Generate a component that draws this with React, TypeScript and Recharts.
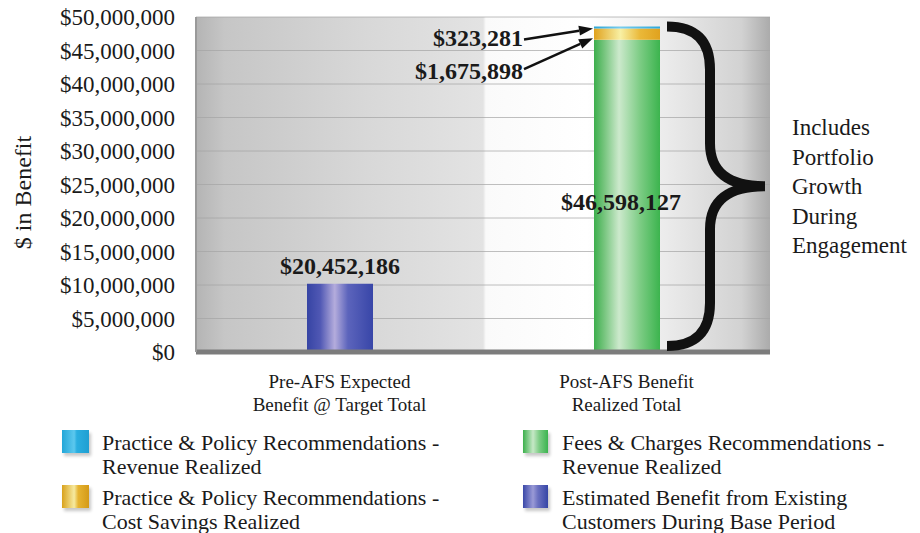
import { Bar, BarChart, CartesianGrid, ReferenceLine, XAxis, YAxis } from "recharts";

const categories = ["Pre-AFS Expected\nBenefit @ Target Total", "Post-AFS Benefit\nRealized Total"];
const baseBenefit = [10200000, 0];
const feesRevenue = [0, 46598127];
const policyCost = [0, 1675898];
const policyRevenue = [0, 323281];
const preTargetLabel = "$20,452,186";
const yTicks = [0, 5000000, 10000000, 15000000, 20000000, 25000000, 30000000, 35000000, 40000000, 45000000, 50000000];
const braceNote = ["Includes", "Portfolio", "Growth", "During", "Engagement"];

const PRE = 0;
const POST = 1;

const data = categories.map((category, i) => ({
  category,
  base: baseBenefit[i],
  fees: feesRevenue[i],
  cost: policyCost[i],
  revenue: policyRevenue[i],
}));

const SERIF = '"Liberation Serif", "Times New Roman", serif';
const money = (v: number) => "$" + v.toLocaleString("en-US");

const legendItems = [
  { lines: ["Practice & Policy Recommendations -", "Revenue Realized"], swatch: "linear-gradient(90deg,#22a6d8,#5cc8ee 45%,#2aaee0 55%,#1f9fd2)" },
  { lines: ["Practice & Policy Recommendations -", "Cost Savings Realized"], swatch: "linear-gradient(90deg,#d9a21c,#f6eaa0 45%,#e6b432 60%,#d49a18)" },
  { lines: ["Fees & Charges Recommendations -", "Revenue Realized"], swatch: "linear-gradient(90deg,#3cb04c,#c6e8c6 40%,#7ccc84 65%,#3cb450)" },
  { lines: ["Estimated Benefit from Existing", "Customers During Base Period"], swatch: "linear-gradient(90deg,#3a48a8,#9a9ad6 40%,#6a70c0 60%,#3646a6)" },
];

function Arrow({ x1, y1, x2, y2 }: { x1: number; y1: number; x2: number; y2: number }) {
  const a = Math.atan2(y2 - y1, x2 - x1);
  const L = 14;
  const W = 5;
  const bx = x2 - L * Math.cos(a);
  const by = y2 - L * Math.sin(a);
  const pts = [
    `${x2},${y2}`,
    `${bx + W * Math.sin(a)},${by - W * Math.cos(a)}`,
    `${bx - W * Math.sin(a)},${by + W * Math.cos(a)}`,
  ].join(" ");
  return (
    <g>
      <line x1={x1} y1={y1} x2={bx} y2={by} stroke="#111" strokeWidth={2.5} />
      <polygon points={pts} fill="#111" />
    </g>
  );
}

const boldText = { fontFamily: SERIF, fontWeight: 700, fontSize: 24, fill: "#1a1a1a" };

function BaseLabel(props: any) {
  const { x, y, width, height } = props;
  if (!(height > 0.5)) return null;
  return (
    <text x={x + width / 2} y={y - 10} textAnchor="middle" style={boldText}>
      {preTargetLabel}
    </text>
  );
}

function FeesLabel(props: any) {
  const { x, y, width, height } = props;
  if (!(height > 0.5)) return null;
  const bottom = y + height;
  const ppu = height / feesRevenue[POST];
  const total = feesRevenue[POST] + policyCost[POST] + policyRevenue[POST];
  const top = bottom - total * ppu;
  const right = x + width;
  const x0 = right + 7;
  const xv = right + 50;
  const xt = right + 105;
  const yT = top;
  const yB = bottom - 6;
  const yM = (yT + yB) / 2;
  const r = 43;
  const path = [
    `M ${x0} ${yT}`,
    `Q ${xv} ${yT} ${xv} ${yT + r}`,
    `L ${xv} ${yM - r}`,
    `Q ${xv} ${yM} ${xt} ${yM}`,
    `Q ${xv} ${yM} ${xv} ${yM + r}`,
    `L ${xv} ${yB - r}`,
    `Q ${xv} ${yB} ${x0} ${yB}`,
  ].join(" ");
  return (
    <g>
      <text x={x + width / 2 - 6} y={y + height / 2 + 14} textAnchor="middle" style={boldText}>
        {money(feesRevenue[POST])}
      </text>
      <path d={path} fill="none" stroke="#111" strokeWidth={10} />
      {braceNote.map((line, i) => (
        <text
          key={line}
          x={xt + 27}
          y={yM - 59 + i * 29.5 + 8}
          style={{ fontFamily: SERIF, fontSize: 23, fill: "#1a1a1a" }}
        >
          {line}
        </text>
      ))}
    </g>
  );
}

function CostLabel(props: any) {
  const { x, y, height } = props;
  if (!(height > 0.5)) return null;
  const tipY = y + height / 2 + 4;
  const ty = tipY + 33;
  return (
    <g>
      <text x={x - 71} y={ty + 8} textAnchor="end" style={boldText}>
        {money(policyCost[POST])}
      </text>
      <Arrow x1={x - 70} y1={ty - 2} x2={x - 1} y2={tipY} />
    </g>
  );
}

function RevenueLabel(props: any) {
  const { x, y, height } = props;
  if (!(height > 0.5)) return null;
  const tipY = y + height / 2 + 1;
  const ty = tipY + 10;
  return (
    <g>
      <text x={x - 71} y={ty + 8} textAnchor="end" style={boldText}>
        {money(policyRevenue[POST])}
      </text>
      <Arrow x1={x - 70} y1={ty + 1} x2={x - 1} y2={tipY} />
    </g>
  );
}

function XTick(props: any) {
  const { x, y, payload } = props;
  const lines = String(payload.value).split("\n");
  return (
    <g>
      {lines.map((line, i) => (
        <text
          key={i}
          x={x}
          y={y + 36 + i * 23}
          textAnchor="middle"
          style={{ fontFamily: SERIF, fontSize: 19, fill: "#1a1a1a" }}
        >
          {line}
        </text>
      ))}
    </g>
  );
}

function YLabel(props: any) {
  const { viewBox } = props;
  const cx = viewBox.x + 31;
  const cy = viewBox.y + viewBox.height / 2 + 8;
  return (
    <text
      x={cx}
      y={cy}
      transform={`rotate(-90 ${cx} ${cy})`}
      textAnchor="middle"
      style={{ fontFamily: SERIF, fontSize: 24, fill: "#1a1a1a" }}
    >
      $ in Benefit
    </text>
  );
}

export default function App() {
  return (
    <div style={{ position: "absolute", left: 0, top: 0, width: 920, height: 533, background: "#fff" }}>
      <BarChart
        width={920}
        height={420}
        data={data}
        margin={{ top: 17, right: 150, left: 0, bottom: 0 }}
      >
        <defs>
          <linearGradient id="plotBg" x1="0" y1="0" x2="1" y2="0">
            <stop offset="0" stopColor="#b4b4b4" />
            <stop offset="0.05" stopColor="#c6c6c6" />
            <stop offset="0.3" stopColor="#d8d8d8" />
            <stop offset="0.5" stopColor="#e3e3e3" />
            <stop offset="0.505" stopColor="#fafafa" />
            <stop offset="0.68" stopColor="#ffffff" />
            <stop offset="0.82" stopColor="#ebebeb" />
            <stop offset="0.95" stopColor="#d2d2d2" />
            <stop offset="1" stopColor="#ababab" />
          </linearGradient>
          <linearGradient id="gBlue" x1="0" y1="0" x2="1" y2="0">
            <stop offset="0" stopColor="#3644a4" />
            <stop offset="0.2" stopColor="#5058b4" />
            <stop offset="0.42" stopColor="#b4acdc" />
            <stop offset="0.62" stopColor="#5c64bc" />
            <stop offset="1" stopColor="#3846a8" />
          </linearGradient>
          <linearGradient id="gGreen" x1="0" y1="0" x2="1" y2="0">
            <stop offset="0" stopColor="#3cae4c" />
            <stop offset="0.15" stopColor="#74c47c" />
            <stop offset="0.38" stopColor="#cce9cc" />
            <stop offset="0.7" stopColor="#7ccc84" />
            <stop offset="1" stopColor="#3cb44e" />
          </linearGradient>
          <linearGradient id="gYellow" x1="0" y1="0" x2="1" y2="0">
            <stop offset="0" stopColor="#e0a21e" />
            <stop offset="0.4" stopColor="#f8f0a4" />
            <stop offset="0.7" stopColor="#eab838" />
            <stop offset="1" stopColor="#e0a21e" />
          </linearGradient>
          <linearGradient id="gCyan" x1="0" y1="0" x2="1" y2="0">
            <stop offset="0" stopColor="#2aa4d6" />
            <stop offset="0.4" stopColor="#78cdee" />
            <stop offset="1" stopColor="#2aa8dc" />
          </linearGradient>
        </defs>
        <CartesianGrid
          vertical={false}
          stroke="#a4a4a4"
          strokeOpacity={0.7}
          fill="url(#plotBg)"
          fillOpacity={1}
        />
        <XAxis
          dataKey="category"
          axisLine={false}
          tickLine={false}
          tickSize={0}
          tickMargin={0}
          height={68}
          interval={0}
          tick={<XTick />}
        />
        <YAxis
          width={196}
          domain={[0, 50000000]}
          ticks={yTicks}
          tickFormatter={money}
          axisLine={{ stroke: "#9a9a9a", strokeWidth: 2 }}
          tickLine={false}
          tickSize={0}
          tickMargin={21}
          tick={{ fontFamily: SERIF, fontSize: 23, fill: "#1a1a1a" }}
          label={<YLabel />}
        />
        <ReferenceLine y={0} stroke="#7c7c7c" strokeWidth={5} />
        <Bar dataKey="base" stackId="a" barSize={66} fill="url(#gBlue)" isAnimationActive={false} label={<BaseLabel />} />
        <Bar dataKey="fees" stackId="a" barSize={66} fill="url(#gGreen)" isAnimationActive={false} label={<FeesLabel />} />
        <Bar dataKey="cost" stackId="a" barSize={66} fill="url(#gYellow)" isAnimationActive={false} label={<CostLabel />} />
        <Bar dataKey="revenue" stackId="a" barSize={66} fill="url(#gCyan)" isAnimationActive={false} label={<RevenueLabel />} />
      </BarChart>
      {legendItems.map((item, i) => {
        const col = i < 2 ? 0 : 1;
        const row = i % 2;
        const left = col === 0 ? 62 : 523;
        const top = 430 + row * 55;
        return (
          <div key={i} style={{ position: "absolute", left, top, display: "flex", alignItems: "flex-start" }}>
            <div
              style={{
                width: col === 0 ? 27 : 25,
                height: 23,
                background: item.swatch,
                boxShadow: "2px 3px 3px rgba(0,0,0,0.22)",
                marginRight: col === 0 ? 13 : 14,
                flexShrink: 0,
              }}
            />
            <div style={{ fontFamily: SERIF, fontSize: 22, lineHeight: "24px", color: "#1a1a1a", marginTop: 1, whiteSpace: "nowrap" }}>
              {item.lines.map((l) => (
                <div key={l}>{l}</div>
              ))}
            </div>
          </div>
        );
      })}
    </div>
  );
}
